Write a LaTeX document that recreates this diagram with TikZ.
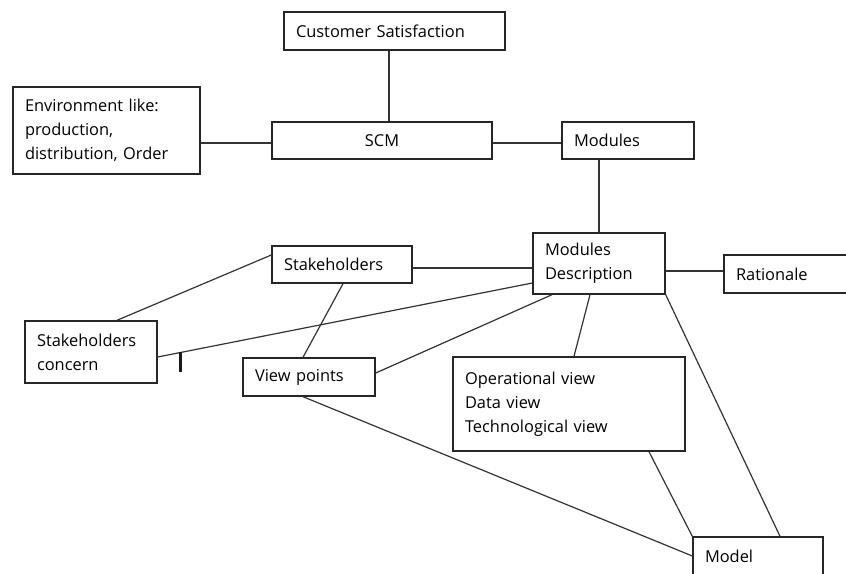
\documentclass[tikz,border=0pt]{standalone}
\usepackage{fontspec}
\setmainfont[WordSpace=0.6]{Open Sans}
\begin{document}
\begin{tikzpicture}[x=1pt,y=-1pt,
  box/.style={draw=black!85, line width=1.4pt, fill=white, inner xsep=12pt, inner ysep=0pt,
    align=left, font=\fontsize{16.4}{23.8}\selectfont, text=black},
  link/.style={draw=black!80, line width=1.2pt}]
\clip (0,0) rectangle (846,573);
\fill[white] (0,0) rectangle (846,573);

% boxes: (x, y) is the centre, sizes in px
\newcommand{\mybox}[6][]{%
  \node[box, #1, minimum width=#4pt, minimum height=#5pt, text width=#4pt-24pt] (#2) at (#3) {#6};}
\mybox{cs}{394.5,31}{221}{38}{Customer Satisfaction}
\mybox{env}{106.5,130.5}{187}{87}{Environment like:\\production,\\distribution, Order}
\mybox[align=center]{scm}{382,140.5}{220}{37}{SCM}
\mybox{mod}{628,140.5}{132}{37}{Modules}
\mybox{md}{599,263.5}{132}{61}{Modules\\Description}
\mybox{rat}{797,274}{146}{38}{Rationale}
\mybox{sh}{342,264.5}{140}{37}{Stakeholders}
\mybox{sc}{91,352}{132}{62}{Stakeholders\\concern}
\mybox{vp}{309,377}{132}{38}{View points}
\mybox{ov}{569,404}{232}{94}{Operational view\\Data view\\Technological view}
\mybox{model}{758,556}{130}{38}{Model}

% connectors
\draw[link] ([xshift=-5.5pt]cs.south) -- ([xshift=-5.5pt]cs.south |- scm.north);
\draw[link] ([yshift=-2.5pt]scm.west) -- ([yshift=-2.5pt]scm.west -| env.east);
\draw[link] ([yshift=-2.5pt]scm.east) -- ([yshift=-2.5pt]scm.east -| mod.west);
\draw[link] ([xshift=-29pt]mod.south) -- ([xshift=-29pt]mod.south |- md.north);
\draw[link] ([yshift=-3.5pt]sh.east) -- ([yshift=-3.5pt]sh.east -| md.west);
\draw[link] ([yshift=3pt]rat.west) -- ([yshift=3pt]rat.west -| md.east);
\draw[link] ([yshift=9.5pt]sh.west) -- ([xshift=26pt]sc.north);
\draw[link] ([yshift=-5pt]sc.east) -- coordinate[pos=0.061] (tick) ([yshift=-19.5pt]md.west);
\draw[black!90, line width=2.6pt] (tick) -- ++(0,20);
\draw[link] ([xshift=1pt]sh.south) -- ([xshift=-6pt]vp.north);
\draw[link] ([yshift=4pt]vp.east) -- ([xshift=-47pt]md.south);
\draw[link] ([xshift=-6pt]vp.south) -- (model.west);
\draw[link] ([xshift=-9pt]md.south) -- ([xshift=5pt]ov.north);
\draw[link] ([xshift=80pt]ov.south) -- (model.north west);
\draw[link] (md.south east) -- ([xshift=22pt]model.north);
\end{tikzpicture}
\end{document}
